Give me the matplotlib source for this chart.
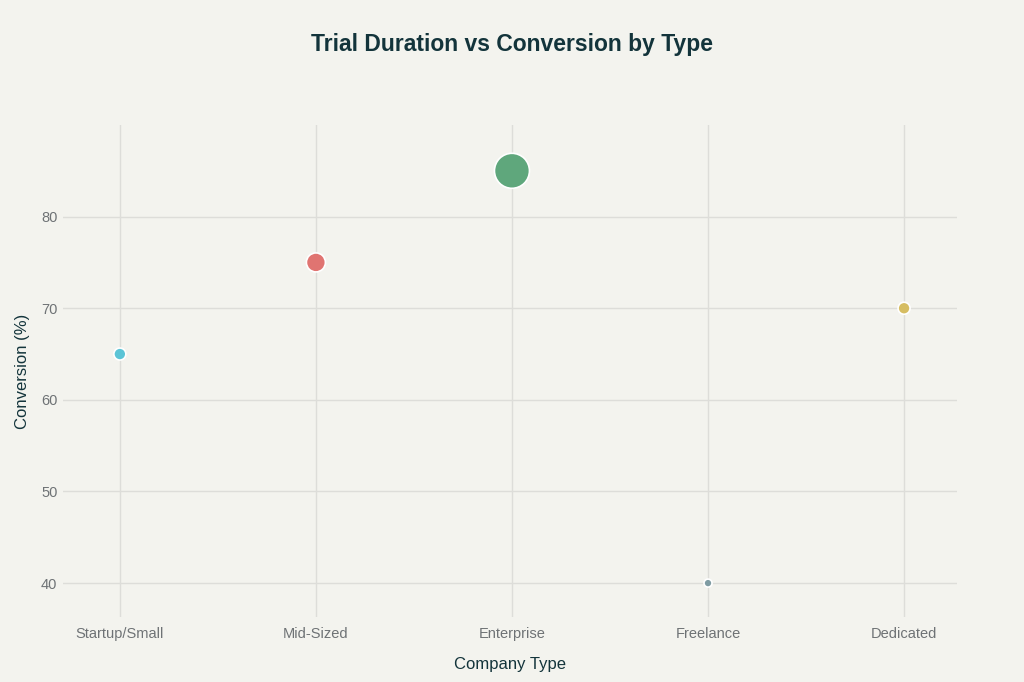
import matplotlib
matplotlib.use("Agg")
import matplotlib.pyplot as plt

categories = ["Startup/Small", "Mid-Sized", "Enterprise", "Freelance", "Dedicated"]
conversion = [65, 75, 85, 40, 70]
trial_days = [7, 14, 30, 3, 7]
colors = ["#5BC4D6", "#E07471", "#5FA77C", "#7F9CA3", "#D6BD62"]

plt.rcParams['font.family'] = ['Liberation Sans', 'DejaVu Sans']

BG = "#F3F3EE"
fig = plt.figure(figsize=(10.24, 6.82), dpi=100, facecolor=BG)
ax = fig.add_axes([63/1024, (682-617)/682, (957-63)/1024, (617-125)/682])
ax.set_facecolor(BG)

x = list(range(len(categories)))
# diameter in pixels -> points^2
sizes = [((d + 5) * 0.72) ** 2 for d in trial_days]
ax.scatter(x, conversion, s=sizes, c=colors, edgecolors="white", linewidths=1.2, zorder=3)

ax.set_xlim(-0.29, 4.27)
ax.set_ylim(36.3, 90)
ax.set_xticks(x)
ax.set_xticklabels(categories)
ax.set_yticks([40, 50, 60, 70, 80])

for s in ax.spines.values():
    s.set_visible(False)
ax.grid(True, color="#DDDDD9", linewidth=1, zorder=0)
ax.tick_params(axis="both", length=0, colors="#6E7275", labelsize=10.5)
ax.tick_params(axis="x", pad=7)
ax.tick_params(axis="y", pad=4)

ax.set_xlabel("Company Type", fontsize=12, color="#13343B", labelpad=12)
ax.set_ylabel("Conversion (%)", fontsize=12, color="#13343B", labelpad=8)
fig.text(0.5, 1 - 44/682, "Trial Duration vs Conversion by Type", ha="center", va="center",
         fontsize=16.5, fontweight="bold", color="#13343B")

fig.savefig("out.png", dpi=100, facecolor=BG)
